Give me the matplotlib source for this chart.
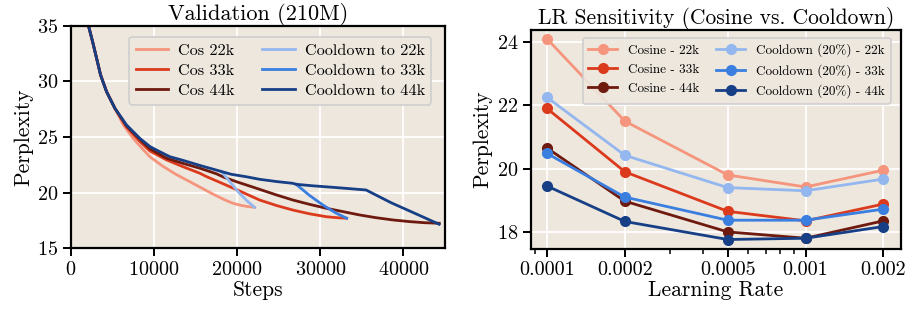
import numpy as np
import matplotlib
matplotlib.use("Agg")
import matplotlib.pyplot as plt
from matplotlib.ticker import FixedLocator, FixedFormatter, NullFormatter

plt.rcParams['font.family'] = ['cmr10', 'DejaVu Serif']
plt.rcParams['mathtext.fontset'] = 'cm'
plt.rcParams['axes.formatter.use_mathtext'] = True

# ---- left panel: validation curves (steps, perplexity)
early_steps = [1800, 2080, 2600, 3080, 3560, 4280, 5280]
early_ppl = [37.3, 35.06, 33.56, 32.07, 30.57, 29.07, 27.58]

cos22_steps = early_steps + [6280, 7480, 8280, 9480, 11000, 12500, 14000, 15500, 17000, 18500, 19500, 20500, 21300, 22090]
cos22_ppl = early_ppl + [26.1, 24.88, 24.2, 23.23, 22.4, 21.7, 21.1, 20.5, 19.9, 19.35, 19.04, 18.85, 18.75, 18.68]

cos33_steps = early_steps + [6680, 8280, 9480, 11480, 13480, 15480, 16280, 18300, 20280, 22690, 24700, 26680, 28700, 30690, 32000, 33170]
cos33_ppl = early_ppl + [25.9, 24.6, 23.75, 22.95, 22.33, 21.75, 21.45, 20.8, 20.15, 19.34, 18.85, 18.44, 18.1, 17.84, 17.75, 17.7]

cos44_steps = early_steps + [6680, 8280, 9480, 11480, 13480, 15480, 17480, 18500, 19880, 22690, 24700, 26680, 28700, 30690, 32700, 34690, 36700, 38690, 40700, 42500, 44300]
cos44_ppl = early_ppl + [26.0, 24.8, 23.95, 23.1, 22.63, 22.2, 21.7, 21.35, 20.99, 20.3, 19.8, 19.34, 18.95, 18.6, 18.3, 18.0, 17.75, 17.55, 17.4, 17.3, 17.25]

const_steps = early_steps + [6680, 8280, 9480, 10280, 11880, 13480, 15480, 17480, 18090, 19280, 21080, 22690, 24700, 26680, 27090, 29000, 31500, 33500, 35500]
const_ppl = early_ppl + [26.08, 24.88, 24.15, 23.83, 23.23, 22.9, 22.45, 22.03, 21.9, 21.65, 21.43, 21.2, 21.0, 20.84, 20.75, 20.62, 20.48, 20.36, 20.24]

cd22_steps = [18090, 19200, 20280, 21200, 22090]
cd22_ppl = [21.9, 20.9, 19.94, 19.25, 18.68]

cd33_steps = [27090, 28700, 30290, 31800, 33170]
cd33_ppl = [20.75, 19.75, 18.9, 18.2, 17.7]

cd44_steps = [35500, 38500, 41500, 44300]
cd44_ppl = [20.24, 19.1, 18.1, 17.16]

# ---- right panel: LR sensitivity
lrs = [0.0001, 0.0002, 0.0005, 0.001, 0.002]
lr_labels = ['0.0001', '0.0002', '0.0005', '0.001', '0.002']
cosine_22k = [24.1, 21.5, 19.8, 19.42, 19.95]
cosine_33k = [21.9, 19.9, 18.65, 18.35, 18.88]
cosine_44k = [20.65, 18.97, 18.0, 17.8, 18.35]
cooldown_22k = [22.25, 20.42, 19.4, 19.3, 19.67]
cooldown_33k = [20.48, 19.1, 18.37, 18.37, 18.72]
cooldown_44k = [19.45, 18.33, 17.76, 17.8, 18.17]

c_cos = ['#f6957d', '#dc3a1c', '#6f1a0f']
c_cd = ['#93b7ee', '#3a7ee0', '#173f86']
bg = '#ede7de'

fig = plt.figure(figsize=(9.07, 3.13), dpi=100)
ax1 = fig.add_axes([71 / 907, 1 - 248.3 / 313, 374 / 907, 222.6 / 313])
ax2 = fig.add_axes([531 / 907, 1 - 249 / 313, 370 / 907, 219 / 313])

for ax in (ax1, ax2):
    ax.set_facecolor(bg)
    ax.grid(True, color='white', lw=1.3, which='major')
    ax.set_axisbelow(True)
    for s in ax.spines.values():
        s.set_linewidth(1.6)
        s.set_color('black')
    ax.tick_params(which='major', length=6, width=1.4, labelsize=14.5, direction='out', pad=3)
    ax.tick_params(which='minor', length=3.5, width=1.1, direction='out')

lw = 2.0
ax1.plot(cos22_steps, cos22_ppl, color=c_cos[0], lw=lw, label='Cos 22k')
ax1.plot(cos33_steps, cos33_ppl, color=c_cos[1], lw=lw, label='Cos 33k')
ax1.plot(cos44_steps, cos44_ppl, color=c_cos[2], lw=lw, label='Cos 44k')
ax1.plot(cd22_steps, cd22_ppl, color=c_cd[0], lw=lw, label='Cooldown to 22k')
ax1.plot(cd33_steps, cd33_ppl, color=c_cd[1], lw=lw, label='Cooldown to 33k')
ax1.plot(const_steps + cd44_steps[1:], const_ppl + cd44_ppl[1:], color=c_cd[2], lw=lw, label='Cooldown to 44k')
ax1.set_xlim(0, 45000)
ax1.set_ylim(15, 35)
ax1.set_xticks([0, 10000, 20000, 30000, 40000])
ax1.set_yticks([15, 20, 25, 30, 35])
ax1.set_xlabel('Steps', fontsize=15.5, labelpad=1)
ax1.set_ylabel('Perplexity', fontsize=15.5, labelpad=3)
ax1.set_title('Validation (210M)', fontsize=16, pad=2)
leg = ax1.legend(ncol=2, loc='upper right', fontsize=11.7, frameon=True, facecolor=bg,
                 edgecolor='#cccccc', framealpha=0.9, handlelength=2.0, handletextpad=0.6,
                 columnspacing=1.7, borderpad=0.4, labelspacing=0.35,
                 bbox_to_anchor=(0.985, 0.985))
leg.get_frame().set_linewidth(1.2)

ms = 7
ax2.plot(lrs, cosine_22k, 'o-', color=c_cos[0], lw=lw, ms=ms, label='Cosine - 22k')
ax2.plot(lrs, cosine_33k, 'o-', color=c_cos[1], lw=lw, ms=ms, label='Cosine - 33k')
ax2.plot(lrs, cosine_44k, 'o-', color=c_cos[2], lw=lw, ms=ms, label='Cosine - 44k')
ax2.plot(lrs, cooldown_22k, 'o-', color=c_cd[0], lw=lw, ms=ms, label='Cooldown (20%) - 22k')
ax2.plot(lrs, cooldown_33k, 'o-', color=c_cd[1], lw=lw, ms=ms, label='Cooldown (20%) - 33k')
ax2.plot(lrs, cooldown_44k, 'o-', color=c_cd[2], lw=lw, ms=ms, label='Cooldown (20%) - 44k')
ax2.set_xscale('log')
ax2.set_xlim(8.67e-5, 2.34e-3)
ax2.set_ylim(17.46, 24.38)
ax2.xaxis.set_major_locator(FixedLocator(lrs))
ax2.xaxis.set_major_formatter(FixedFormatter(lr_labels))
ax2.xaxis.set_minor_formatter(NullFormatter())
ax2.set_yticks([18, 20, 22, 24])
ax2.set_xlabel('Learning Rate', fontsize=15.5, labelpad=1)
ax2.set_ylabel('Perplexity', fontsize=15.5, labelpad=3)
ax2.set_title('LR Sensitivity (Cosine vs. Cooldown)', fontsize=15.5, pad=3)
leg2 = ax2.legend(ncol=2, loc='upper right', fontsize=9.5, frameon=True, facecolor=bg,
                  edgecolor='#cccccc', framealpha=0.9, handlelength=2.2, columnspacing=1.3,
                  borderpad=0.45, labelspacing=0.5, bbox_to_anchor=(0.99, 0.995))
leg2.get_frame().set_linewidth(1.2)

fig.savefig('out.png', dpi=100)
